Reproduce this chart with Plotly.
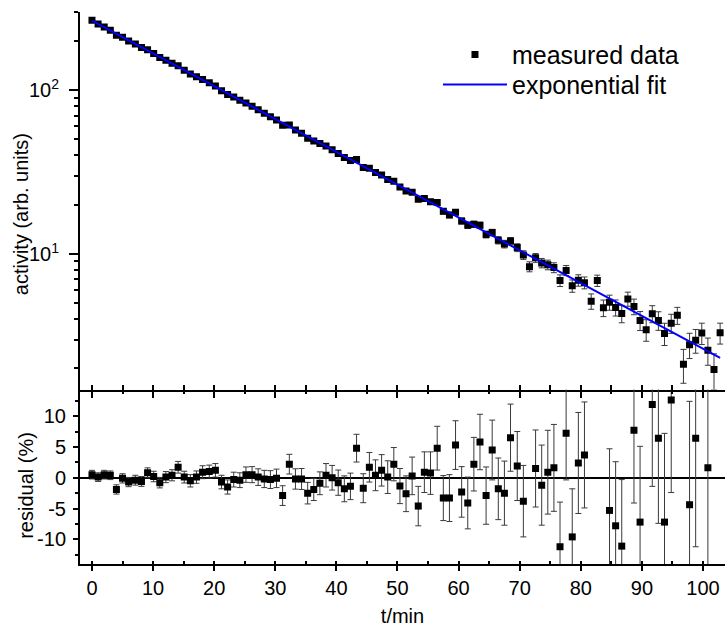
import plotly.graph_objects as go

# time of each measurement (min)
t = [0.0, 1.0, 2.0, 3.0, 4.0, 5.0, 6.0, 7.1, 8.1, 9.1,
     10.1, 11.1, 12.1, 13.1, 14.1, 15.1, 16.1, 17.1, 18.1, 19.2,
     20.2, 21.2, 22.2, 23.2, 24.2, 25.2, 26.2, 27.2, 28.2, 29.2,
     30.2, 31.2, 32.3, 33.3, 34.3, 35.3, 36.3, 37.3, 38.3, 39.3,
     40.3, 41.3, 42.3, 43.3, 44.4, 45.4, 46.4, 47.4, 48.4, 49.4,
     50.4, 51.4, 52.4, 53.4, 54.4, 55.4, 56.5, 57.5, 58.5, 59.5,
     60.5, 61.5, 62.5, 63.5, 64.5, 65.5, 66.5, 67.5, 68.5, 69.6,
     70.6, 71.6, 72.6, 73.6, 74.6, 75.6, 76.6, 77.6, 78.6, 79.6,
     80.6, 81.7, 82.7, 83.7, 84.7, 85.7, 86.7, 87.7, 88.7, 89.7,
     90.7, 91.7, 92.7, 93.7, 94.8, 95.8, 96.8, 97.8, 98.8, 99.8,
     100.8, 101.8, 102.8]

# measured activity (arb. units)
activity = [266.9, 253.8, 243.2, 231.9, 216.3, 210.3, 199.5, 191.0, 182.0, 176.2,
            167.2, 158.0, 152.2, 145.7, 140.9, 132.4, 125.6, 120.6, 116.0, 110.9,
            106.1, 99.3, 94.1, 90.9, 86.7, 83.5, 79.7, 75.8, 72.2, 68.8,
            65.7, 61.1, 61.3, 57.2, 54.6, 50.9, 48.9, 47.2, 45.6, 43.3,
            41.1, 38.8, 37.2, 37.7, 33.7, 33.4, 31.4, 30.3, 28.5, 27.8,
            25.6, 24.2, 23.8, 21.6, 21.8, 20.8, 20.6, 18.2, 17.3, 18.0,
            15.9, 15.0, 15.2, 15.0, 13.16, 13.51, 12.13, 11.50, 11.98, 10.94,
            9.86, 8.37, 9.48, 8.81, 8.59, 8.26, 6.89, 7.94, 6.39, 6.91,
            6.68, 5.15, 6.88, 4.69, 5.07, 4.71, 4.33, 5.32, 4.78, 3.93,
            3.45, 4.32, 3.93, 3.27, 3.78, 4.22, 2.12, 2.79, 2.97, 3.29,
            2.58, 1.97, 3.30]

# residual (%) and its uncertainty (%)
residual = [0.5, 0.1, 0.5, 0.4, -1.9, -0.1, -0.7, -0.4, -0.6, 0.8,
            0.2, -0.8, 0.1, 0.4, 1.7, 0.1, -0.5, 0.1, 0.9, 1.0,
            1.2, -0.7, -1.5, -0.3, -0.4, 0.5, 0.5, 0.1, -0.2, -0.3,
            -0.1, -2.9, 2.2, -0.2, -0.2, -2.5, -1.9, -0.9, 0.4, 0.0,
            -0.8, -1.8, -1.4, 4.8, -1.7, 1.7, 0.4, 1.2, 0.1, 2.2,
            -1.35, -2.6, 0.3, -4.6, 0.9, 0.75, 4.8, -3.3, -3.3, 5.3,
            -2.3, -4.1, 2.2, 5.8, -2.9, 4.5, -1.8, -2.5, 6.5, 1.9,
            -3.8, -14.3, 1.5, -1.2, 0.9, 1.6, -11.2, 7.2, -9.6, 2.4,
            3.7, -16.2, 17.3, -16.3, -5.3, -7.8, -11.1, 14.4, 7.7, -7.2,
            -14.8, 11.9, 6.4, -7.2, 12.6, 31.0, -30.7, -4.4, 6.4, 23.6,
            1.6, -18.9, 42.6]

residual_err = [0.7, 0.7, 0.7, 0.7, 0.75, 0.75, 0.75, 0.8, 0.8, 0.8,
                0.85, 0.85, 0.9, 0.9, 0.95, 0.95, 1.0, 1.0, 1.05, 1.05,
                1.1, 1.1, 1.15, 1.2, 1.2, 1.25, 1.3, 1.35, 1.4, 1.45,
                1.5, 1.6, 1.6, 1.65, 1.7, 1.75, 1.8, 1.85, 1.9, 2.0,
                2.05, 2.1, 2.15, 2.25, 2.35, 2.4, 2.5, 2.55, 2.65, 2.7,
                2.85, 2.9, 3.05, 3.2, 3.3, 3.45, 3.55, 3.65, 3.8, 3.95,
                4.1, 4.2, 4.35, 4.5, 4.65, 4.85, 5.0, 5.2, 5.45, 5.6,
                5.8, 6.0, 6.25, 6.5, 6.8, 7.05, 7.25, 7.55, 7.8, 8.2,
                8.6, 9.0, 9.3, 9.7, 10.0, 10.4, 10.8, 11.3, 11.8, 12.3,
                12.8, 13.3, 13.8, 14.4, 15.0, 15.6, 16.2, 16.8, 17.6, 18.4,
                19.2, 20.0, 20.8]

# exponential fit (straight line on the log axis) end points
fit_t = [0.0, 102.8]
fit_y = [265.6, 2.32]

x_range = [-1.96, 103.6]
res_range = [-14.0, 14.3]

# absolute uncertainty of each activity point
act_sigma = [a / (1 + r / 100.0) * e / 100.0 for a, r, e in zip(activity, residual, residual_err)]

# residual points inside the visible window
keep = [i for i, r in enumerate(residual) if res_range[0] <= r <= res_range[1]]
t_res = [t[i] for i in keep]
r_res = [residual[i] for i in keep]
e_res = [residual_err[i] for i in keep]

FONT = "Liberation Sans, Arial, sans-serif"
split = 0.3159

fig = go.Figure()
fig.add_trace(go.Scatter(
    x=t, y=activity, mode="markers", name="measured data", legend="legend",
    marker=dict(symbol="square", size=7, color="black"),
    error_y=dict(type="data", array=act_sigma, color="#3a3a3a", thickness=1, width=3),
    xaxis="x", yaxis="y"))
fig.add_trace(go.Scatter(
    x=fit_t, y=fit_y, mode="lines", name="exponential fit", legend="legend2",
    line=dict(color="#0000ff", width=2), xaxis="x", yaxis="y"))
fig.add_trace(go.Scatter(
    x=t_res, y=r_res, mode="markers", showlegend=False,
    marker=dict(symbol="square", size=7, color="black"),
    error_y=dict(type="data", array=e_res, color="#3a3a3a", thickness=1, width=3),
    xaxis="x2", yaxis="y2"))
fig.add_trace(go.Scatter(x=[None], y=[None], xaxis="x3", yaxis="y2",
                         showlegend=False, hoverinfo="skip"))

axis_common = dict(showline=True, linewidth=2, linecolor="black", showgrid=False,
                   zeroline=False, tickcolor="black", tickwidth=1.5)

legend_common = dict(xanchor="left", yanchor="middle", font=dict(size=25),
                     bgcolor="rgba(0,0,0,0)", itemwidth=64, borderwidth=0)

fig.update_layout(
    width=725, height=627,
    margin=dict(l=80, r=0, t=12, b=61),
    paper_bgcolor="white", plot_bgcolor="white",
    font=dict(family=FONT, size=20, color="black"),
    showlegend=True,
    legend=dict(x=0.555, y=0.9224, **legend_common),
    legend2=dict(x=0.555, y=0.8682, **legend_common),
    xaxis=dict(domain=[0, 1], anchor="y", range=x_range, ticks="inside",
               tickmode="linear", tick0=0, dtick=5, ticklen=5,
               showticklabels=False, **axis_common),
    xaxis2=dict(domain=[0, 1], anchor="y2", range=x_range, ticks="outside",
                tickmode="linear", tick0=0, dtick=10, ticklen=5,
                minor=dict(tick0=0, dtick=5, ticks="inside", ticklen=3,
                           tickcolor="black", tickwidth=1.5),
                title=dict(text="t/min", standoff=14, font=dict(size=20)),
                **axis_common),
    xaxis3=dict(overlaying="x2", anchor="y2", side="top", range=x_range,
                ticks="inside", tickmode="linear", tick0=0, dtick=10, ticklen=8,
                minor=dict(tick0=0, dtick=5, ticks="inside", ticklen=4,
                           tickcolor="black", tickwidth=1.5),
                showticklabels=False, showline=False, showgrid=False,
                zeroline=False, tickcolor="black", tickwidth=1.5),
    yaxis=dict(domain=[split, 1], anchor="x", type="log", range=[0.172, 2.477],
               ticks="outside", tickmode="array", tickvals=[10, 100],
               ticktext=["10<sup>1</sup>", "10<sup>2</sup>"], ticklen=9,
               ticklabelstandoff=6,
               minor=dict(tickmode="array",
                          tickvals=[2, 3, 4, 5, 6, 7, 8, 9, 20, 30, 40, 50, 60, 70, 80, 90, 200, 300],
                          ticks="outside", ticklen=4, tickcolor="black", tickwidth=1.5),
               **axis_common),
    yaxis2=dict(domain=[0, split], anchor="x2", range=res_range,
                ticks="outside", tickmode="array", tickvals=[-10, -5, 0, 5, 10],
                ticktext=["-10", "-5", "0", "5", "10"], ticklen=5,
                ticklabelstandoff=3,
                minor=dict(tick0=0, dtick=2.5, ticks="outside", ticklen=3,
                           tickcolor="black", tickwidth=1.5),
                showline=True, linewidth=2, linecolor="black", showgrid=False,
                zeroline=True, zerolinecolor="black", zerolinewidth=2,
                tickcolor="black", tickwidth=1.5),
    annotations=[
        dict(text="activity (arb. units)", textangle=-90, xref="paper", yref="paper",
             x=-0.0915, y=0.6336, xanchor="center", yanchor="middle",
             showarrow=False, font=dict(size=20)),
        dict(text="residual (%)", textangle=-90, xref="paper", yref="paper",
             x=-0.0837, y=0.1417, xanchor="center", yanchor="middle",
             showarrow=False, font=dict(size=20)),
    ],
)

fig.write_html("out.html", config={"displayModeBar": False},
               post_script="document.body.style.margin='0px';document.body.style.overflow='hidden';")
